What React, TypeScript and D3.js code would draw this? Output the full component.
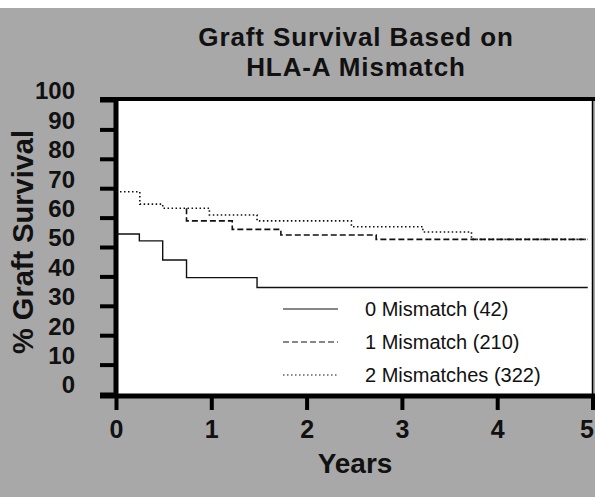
import * as d3 from 'd3';
import { useEffect, useRef } from 'react';

// Kaplan-Meier style step data: [years, % graft survival]
const zeroMismatch: [number, number][] = [
  [0, 54.4],
  [0.245, 52.1],
  [0.49, 45.6],
  [0.74, 39.6],
  [1.48, 36.2],
  [4.95, 36.2],
];

const oneMismatch: [number, number][] = [
  [0.74, 63.2],
  [0.74, 58.9],
  [1.22, 56.0],
  [1.73, 54.1],
  [2.73, 52.6],
  [4.95, 52.6],
];

const twoMismatches: [number, number][] = [
  [0, 68.8],
  [0.25, 64.6],
  [0.49, 63.2],
  [0.98, 60.9],
  [1.48, 58.9],
  [2.47, 56.9],
  [3.22, 55.1],
  [3.73, 52.6],
  [4.95, 52.6],
];

const legendLabels = ['0 Mismatch (42)', '1 Mismatch (210)', '2 Mismatches (322)'];
const dashes = [null, '6,3', '1.5,2.5'];
const yTicks = [0, 10, 20, 30, 40, 50, 60, 70, 80, 90, 100];
const xTicks = [0, 1, 2, 3, 4, 5];
const titleLines = ['Graft Survival Based on', 'HLA-A Mismatch'];

const W = 595;
const H = 497;
const FONT = '"Liberation Sans", Arial, Helvetica, sans-serif';

export default function App() {
  const svgRef = useRef<SVGSVGElement>(null);

  useEffect(() => {
    if (!svgRef.current) return;
    const svg = d3.select(svgRef.current);
    svg.selectAll('*').remove();

    const x = d3.scaleLinear().domain([0, 5]).range([116, 592.5]);
    const y = d3.scaleLinear().domain([0, 100]).range([394, 100]);

    // background
    svg.append('rect').attr('width', W).attr('height', H).attr('fill', '#a8a8a8');
    svg.append('rect').attr('width', W).attr('height', 8).attr('fill', '#ffffff');

    // plot area
    svg
      .append('rect')
      .attr('x', x(0))
      .attr('y', y(100))
      .attr('width', x(5) - x(0))
      .attr('height', y(0) - y(100))
      .attr('fill', '#ffffff');

    // title
    svg
      .append('g')
      .selectAll('text')
      .data(titleLines)
      .enter()
      .append('text')
      .attr('x', 356)
      .attr('y', (_, i) => 46 + i * 30)
      .attr('text-anchor', 'middle')
      .style('font-family', FONT)
      .style('font-weight', 'bold')
      .style('font-size', '26px')
      .style('letter-spacing', '0.9px')
      .attr('fill', '#111')
      .text((d) => d);

    // y axis
    const yAxis = svg
      .append('g')
      .attr('transform', `translate(${x(0)},0)`)
      .call(d3.axisLeft(y).tickValues(yTicks).tickSize(16).tickPadding(25));
    yAxis.select('.domain').remove();
    yAxis.selectAll('.tick line').attr('stroke', '#000').attr('stroke-width', 4);
    yAxis
      .selectAll('.tick text')
      .attr('dy', '-0.05em')
      .attr('fill', '#111')
      .style('font-family', FONT)
      .style('font-weight', 'bold')
      .style('font-size', '24px');

    // x axis
    const xAxis = svg
      .append('g')
      .attr('transform', `translate(0,${y(0)})`)
      .call(
        d3
          .axisBottom(x)
          .tickValues(xTicks)
          .tickFormat(d3.format('d'))
          .tickSize(16)
          .tickPadding(10)
      );
    xAxis.select('.domain').remove();
    xAxis.selectAll('.tick line').attr('stroke', '#000').attr('stroke-width', 4);
    xAxis
      .selectAll<SVGTextElement, number>('.tick text')
      .attr('dx', (d) => (d === 5 ? -6 : 0))
      .attr('fill', '#111')
      .style('font-family', FONT)
      .style('font-weight', 'bold')
      .style('font-size', '25px');

    // frame: heavy left/bottom/top, thin right
    svg
      .append('line')
      .attr('x1', x(0))
      .attr('x2', x(0))
      .attr('y1', y(100) - 2)
      .attr('y2', y(0) + 2)
      .attr('stroke', '#000')
      .attr('stroke-width', 5);
    svg
      .append('line')
      .attr('x1', x(0) - 16)
      .attr('x2', W)
      .attr('y1', y(0) + 2)
      .attr('y2', y(0) + 2)
      .attr('stroke', '#000')
      .attr('stroke-width', 5);
    svg
      .append('line')
      .attr('x1', x(0) - 16)
      .attr('x2', W)
      .attr('y1', y(100) - 1)
      .attr('y2', y(100) - 1)
      .attr('stroke', '#000')
      .attr('stroke-width', 4);
    svg
      .append('line')
      .attr('x1', x(5))
      .attr('x2', x(5))
      .attr('y1', y(100))
      .attr('y2', y(0))
      .attr('stroke', '#000')
      .attr('stroke-width', 1.5);

    // survival curves
    const line = d3
      .line<[number, number]>()
      .x((d) => x(d[0]))
      .y((d) => y(d[1]))
      .curve(d3.curveStepAfter);

    [zeroMismatch, oneMismatch, twoMismatches].forEach((series, i) => {
      svg
        .append('path')
        .datum(series)
        .attr('fill', 'none')
        .attr('stroke', '#111')
        .attr('stroke-width', i === 0 ? 1.4 : 1.6)
        .attr('stroke-dasharray', dashes[i])
        .attr('d', line);
    });

    // legend
    const legend = svg
      .append('g')
      .selectAll('g')
      .data(legendLabels)
      .enter()
      .append('g')
      .attr('transform', (_, i) => `translate(0,${309 + i * 33})`);
    legend
      .append('line')
      .attr('x1', 283)
      .attr('x2', 338)
      .attr('stroke', '#111')
      .attr('stroke-width', 1.2)
      .attr('stroke-dasharray', (_, i) => dashes[i]);
    legend
      .append('text')
      .attr('x', 365)
      .attr('y', 7)
      .attr('fill', '#111')
      .style('font-family', FONT)
      .style('font-size', '20px')
      .text((d) => d);

    // axis titles
    svg
      .append('text')
      .attr('transform', 'translate(33,242) rotate(-90)')
      .attr('text-anchor', 'middle')
      .attr('fill', '#111')
      .style('font-family', FONT)
      .style('font-weight', 'bold')
      .style('font-size', '29px')
      .text('% Graft Survival');
    svg
      .append('text')
      .attr('x', 355)
      .attr('y', 473)
      .attr('text-anchor', 'middle')
      .attr('fill', '#111')
      .style('font-family', FONT)
      .style('font-weight', 'bold')
      .style('font-size', '28px')
      .text('Years');
  }, []);

  return (
    <svg
      ref={svgRef}
      width={W}
      height={H}
      style={{ position: 'absolute', left: 0, top: 0, display: 'block' }}
    />
  );
}
